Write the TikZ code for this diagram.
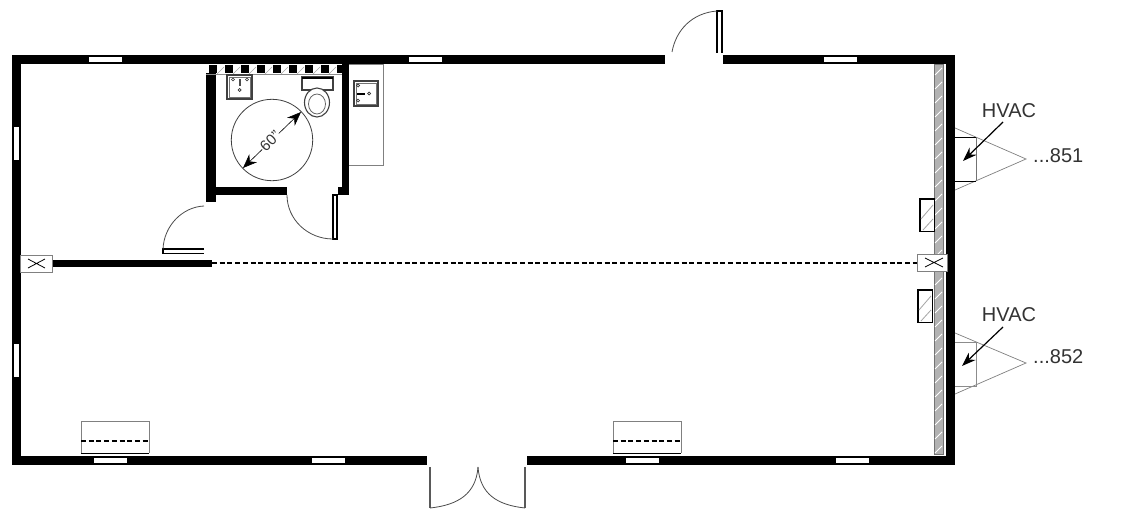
\documentclass[tikz,border=0pt]{standalone}
\usepackage{fontspec}
\setmainfont{Liberation Sans}
\usetikzlibrary{arrows.meta}
\tikzset{
  wall/.style={fill=black},
  win/.style={fill=white},
  thingr/.style={draw=black!50,line width=0.8pt},
  leaf/.style={draw=black,line width=1.1pt,fill=white},
  swing/.style={draw=black!70,line width=0.8pt},
  dash line/.style={draw=black,line width=1.8pt,dash pattern=on 5pt off 2.7pt},
  lbl/.style={font=\fontsize{20pt}{22pt}\selectfont,text=black!80,inner sep=0pt},
  leader/.style={draw=black,line width=1.2pt,-{Stealth[length=14pt,width=10pt]}},
  fixture/.style={draw=black!75,line width=1.1pt,fill=white},
  xbox/.style={draw=black!50,line width=0.8pt,fill=white},
}
\begin{document}
\begin{tikzpicture}[x=1pt,y=-1pt]
\useasboundingbox (0,0) rectangle (1137,519);
\fill[white] (0,0) rectangle (1137,519);
% outer walls
\fill[wall] (12,55) rectangle (665,64);
\fill[wall] (723,55) rectangle (955,64);
\fill[wall] (12,55) rectangle (21,465);
\fill[wall] (946,55) rectangle (955,465);
\fill[wall] (12,455.5) rectangle (427,465);
\fill[wall] (527,455.5) rectangle (955,465);
% windows
\foreach \x in {89,409,824} \fill[win] (\x,57) rectangle (\x+33,62);
\foreach \x in {94,312,626,836} \fill[win] (\x,458) rectangle (\x+33,463);
\foreach \y in {127,344} \fill[win] (14,\y) rectangle (19,\y+33);
% bathroom walls
\fill[wall] (206,73) rectangle (216,202);
\fill[wall] (216,187) rectangle (287,195);
\fill[wall] (342,64) rectangle (349,195);
\fill[wall] (338,187) rectangle (349,195);
% checker band
\draw[draw=black!45,line width=0.9pt] (206,74) -- (342,74);
\foreach \x in {209,225,...,321} \draw[black!35,line width=0.6pt] (\x+8,74) -- (\x+15,67);
\foreach \x in {209,225,...,337} \fill[black] (\x,65) rectangle (\x+7.6,72.5);
% counter
\draw[thingr] (349,64) -- (383,64) -- (383,165) -- (349,165);
\draw[fixture] (354,81) rectangle (378,106);
\draw[black!55,line width=0.7pt] (356,83) rectangle (376,104);
\fill[black] (357,92.5) rectangle (365,95);
\draw[black!80,line width=0.7pt] (358,85.5) circle (1.5) (358,100.5) circle (1.5) (369,93.5) circle (1.5);
% sink
\draw[fixture] (227,75) rectangle (252,99);
\draw[black!55,line width=0.7pt] (229,77) rectangle (250,97);
\fill[black!70] (238.5,79) rectangle (241,86);
\draw[black!80,line width=0.7pt] (233,79.5) circle (1.5) (247,79.5) circle (1.5) (239.7,90) circle (1.5);
% toilet
\draw[fixture] (302,77) rectangle (333,90);
\draw[black,line width=1.1pt] (302,78) -- (333,78);
\draw[fixture] (317,102.5) ellipse [x radius=12.5,y radius=14.5];
\draw[black!60,line width=0.8pt] (317,104) ellipse [x radius=8.5,y radius=10];
% turning circle
\coordinate (ca) at (301,112);
\coordinate (cb) at (243,168);
\draw[black!75,line width=0.8pt] (272,140) circle (40.7);
\draw[black,line width=0.6pt,{Stealth[length=14pt,width=11pt]}-{Stealth[length=14pt,width=11pt]}] (cb) -- (ca);
\node[rotate=44,fill=white,inner sep=0.5pt,font=\fontsize{15pt}{17pt}\selectfont,text=black!80] (turn) at (270,141) {60"};
% bathroom door
\draw[leaf] (333,195) rectangle (337,239);
\draw[swing] (287,195) arc[start angle=180,end angle=270,x radius=46,y radius=-44];
% room door
\draw[leaf] (204,249) -- (163,249) -- (163,253.5) -- (204,253.5);
\draw[swing] (163,249) .. controls (164,226) and (182,207) .. (204,206);
% partition
\fill[wall] (50,260) rectangle (212,267);
\coordinate (pa) at (212,263);
\coordinate (pb) at (917,263);
\draw[dash line] (pa) -- (pb);
% hatched strip
\fill[black!30] (934,64) rectangle (943,454);
\draw[black!55,line width=0.7pt] (934,64) rectangle (943,454);
\foreach \y in {70,84,...,448} \draw[white,line width=0.8pt] (935,\y+5) -- (942,\y-2);
% columns
\node[xbox,minimum width=32pt,minimum height=17pt,inner sep=0pt] (colL) at (36,263.5) {};
\draw[black,line width=0.8pt] (28,259) -- (45,268) (28,268) -- (45,259);
\node[xbox,minimum width=30pt,minimum height=17pt,inner sep=0pt] (colR) at (932,262.5) {};
\draw[black,line width=0.8pt] (925,258) -- (943,267) (925,267) -- (943,258);
% panels
\foreach \yy/\xa in {199/920,290/918} {
  \draw[draw=black,line width=1.1pt,fill=white] (\xa,\yy) rectangle (\xa+14.5,\yy+32.5);
  \draw[black!35,line width=0.8pt] (\xa+1,\yy+20) -- (\xa+13,\yy+6) (\xa+3,\yy+31) -- (\xa+13,\yy+20);
}
% HVAC 851
\draw[thingr,line width=0.7pt] (955,128) -- (1026,159) -- (955,190);
\draw[black!55,line width=0.9pt] (976,137) -- (976,181);
\draw[black,line width=1pt] (955,137) -- (976,137) (955,181) -- (976,181);
\node[lbl] (hv1) at (1009,111) {HVAC};
\node[lbl,anchor=west] (t851) at (1033,156) {...851};
\coordinate (a1) at (963,161);
\draw[leader] (1003,122) -- (a1);
% HVAC 852
\draw[thingr,line width=0.7pt] (955,333) -- (1026,363) -- (955,394);
\draw[black!45,line width=0.9pt] (955,342) -- (976,342) -- (976,386) -- (955,386);
\node[lbl] (hv2) at (1009,315) {HVAC};
\node[lbl,anchor=west] (t852) at (1033,357) {...852};
\coordinate (a2) at (962,366);
\draw[leader] (1003,327) -- (a2);
% top door
\draw[leaf,fill=none] (717,53) -- (717,11) -- (722,11) -- (722,53);
\draw[swing] (672,52) .. controls (676,30) and (692,13) .. (717,11);
% bottom double door
\draw[black!65,line width=1.4pt] (430,467) -- (430,508);
\draw[black!65,line width=1.4pt] (525,467) -- (525,508);
\draw[swing] (430,508) .. controls (458,505) and (476,494) .. (478,467);
\draw[swing] (525,508) .. controls (497,505) and (480,494) .. (478,467);
% desks
\foreach \x in {81,613} {
  \draw[black!50,line width=0.8pt] (\x,453) -- (\x,421) -- (\x+68,421) -- (\x+68,453);
  \draw[black,line width=0.8pt] (\x,453) -- (\x+68,453);
  \draw[dash line] (\x,441) -- (\x+68,441);
}
\end{tikzpicture}
\end{document}
